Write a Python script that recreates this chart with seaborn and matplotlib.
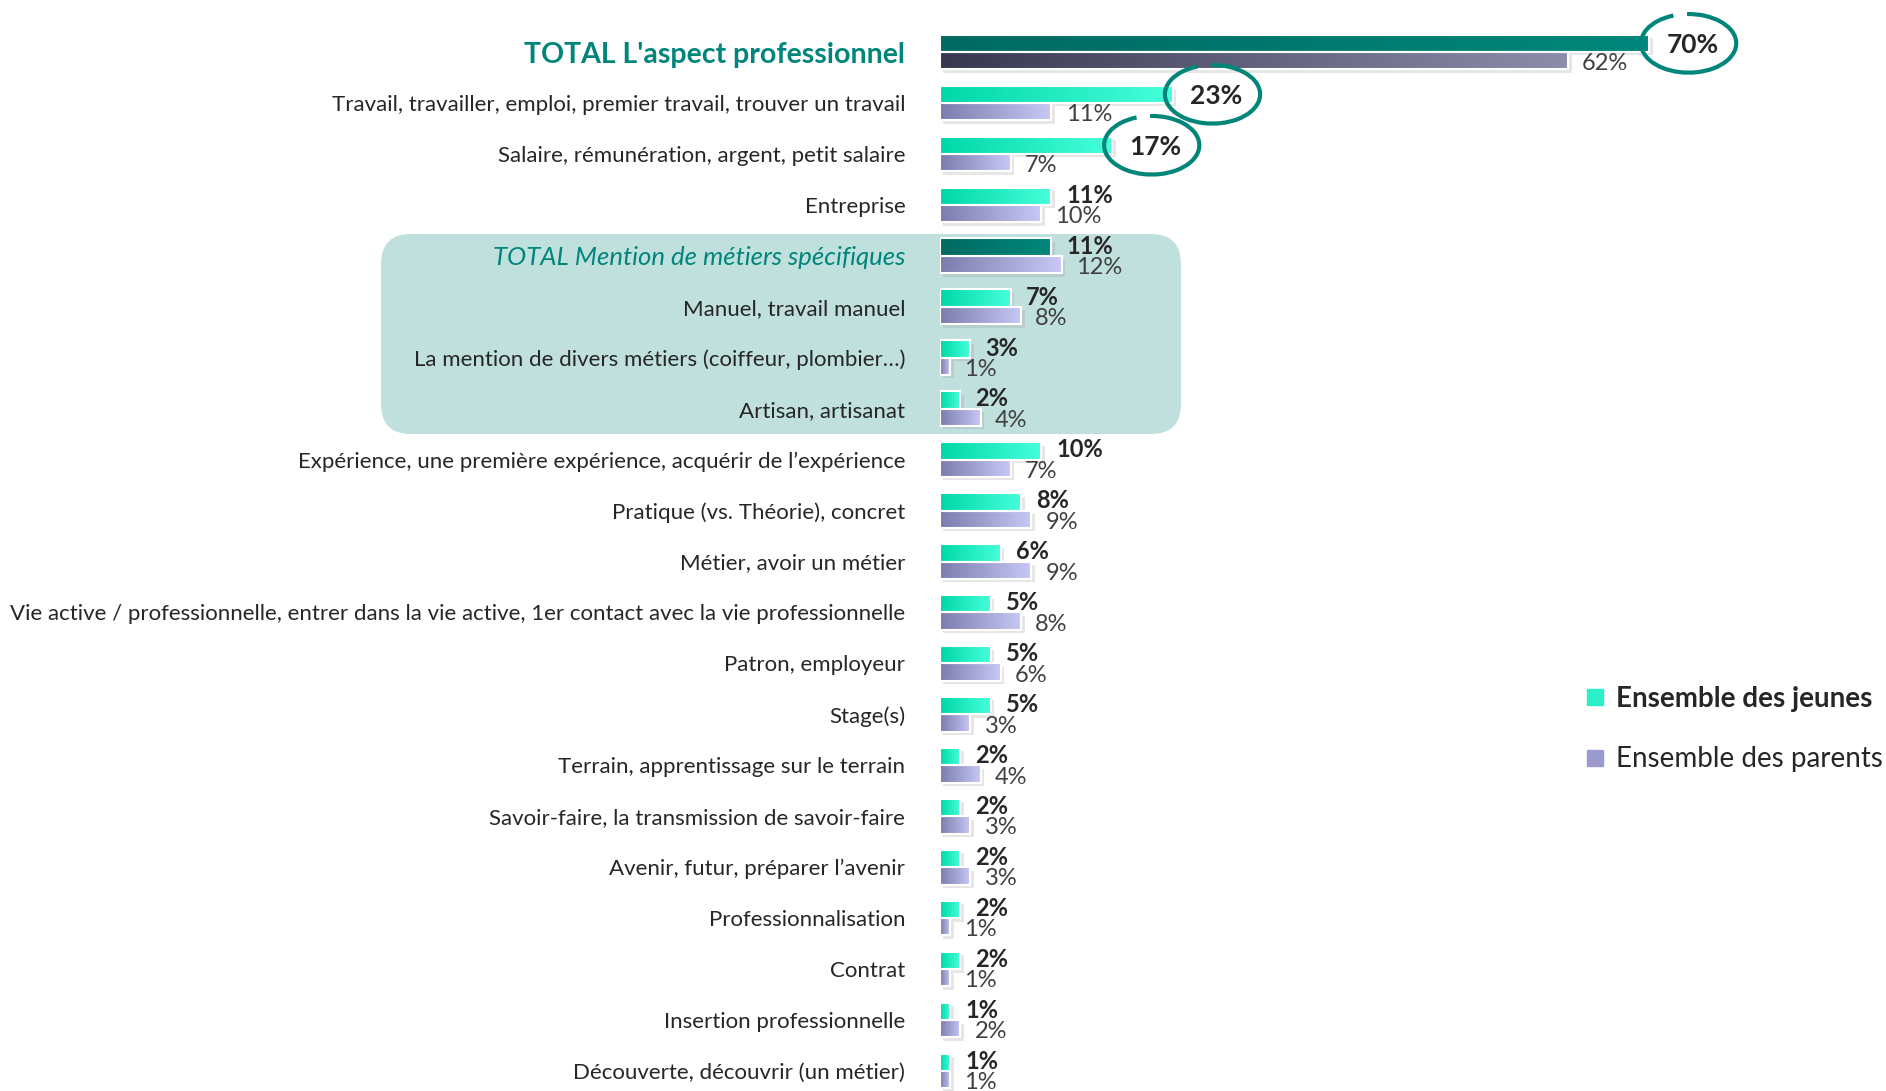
import numpy as np
import pandas as pd
import seaborn as sn
import matplotlib.pyplot as plt
import matplotlib.patheffects as pe
from matplotlib.patches import Arc, FancyBboxPatch, Rectangle
from matplotlib.lines import Line2D
from matplotlib.colors import LinearSegmentedColormap
from matplotlib.transforms import IdentityTransform

categories = [
    "TOTAL L'aspect professionnel",
    "Travail, travailler, emploi, premier travail, trouver un travail",
    "Salaire, rémunération, argent, petit salaire",
    "Entreprise",
    "TOTAL Mention de métiers spécifiques",
    "Manuel, travail manuel",
    "La mention de divers métiers (coiffeur, plombier…)",
    "Artisan, artisanat",
    "Expérience, une première expérience, acquérir de l’expérience",
    "Pratique (vs. Théorie), concret",
    "Métier, avoir un métier",
    "Vie active / professionnelle, entrer dans la vie active, 1er contact avec la vie professionnelle",
    "Patron, employeur",
    "Stage(s)",
    "Terrain, apprentissage sur le terrain",
    "Savoir-faire, la transmission de savoir-faire",
    "Avenir, futur, préparer l’avenir",
    "Professionnalisation",
    "Contrat",
    "Insertion professionnelle",
    "Découverte, découvrir (un métier)",
]
jeunes = [70, 23, 17, 11, 11, 7, 3, 2, 10, 8, 6, 5, 5, 5, 2, 2, 2, 2, 2, 1, 1]
parents = [62, 11, 7, 10, 12, 8, 1, 4, 7, 9, 9, 8, 6, 3, 4, 3, 3, 1, 1, 2, 1]
series_names = ["Ensemble des jeunes", "Ensemble des parents"]
circled = [0, 1, 2]

TEAL = "#00857A"
TXT = "#262626"

df = pd.DataFrame({"categorie": categories * 2,
                   "valeur": jeunes + parents,
                   "groupe": [series_names[0]] * len(jeunes) + [series_names[1]] * len(parents)})

sn.set_style("white")
plt.rcParams["font.family"] = ["Lato", "DejaVu Sans"]

fig = plt.figure(figsize=(18.86, 10.91), dpi=100)
ax = fig.add_axes([940 / 1886, 0, 946 / 1886, 1])
ax.set_zorder(1)
ax.patch.set_alpha(0)

sn.barplot(df, x="valeur", y="categorie", hue="groupe", order=categories,
           hue_order=series_names, orient="h", width=0.68, ax=ax, legend=False,
           palette=["#20EFC0", "#A0A0D8"], saturation=1)

cmaps = {
    "j": LinearSegmentedColormap.from_list("j", ["#00D8A8", "#45FFDA"]),
    "jt": LinearSegmentedColormap.from_list("jt", ["#006A62", "#00877B"]),
    "p": LinearSegmentedColormap.from_list("p", ["#7C7CAE", "#C8C8F6"]),
    "pt": LinearSegmentedColormap.from_list("pt", ["#383850", "#8C8CAA"]),
}
grad = np.linspace(0, 1, 64).reshape(1, -1)

for k, container in enumerate(ax.containers):
    for i, bar in enumerate(container):
        if k == 0:
            cm = cmaps["jt"] if i in (0, 4) else cmaps["j"]
        else:
            cm = cmaps["pt"] if i == 0 else cmaps["p"]
        bar.set_edgecolor("none")
        bar.set_path_effects([pe.SimplePatchShadow(offset=(2.5, -2.5), shadow_rgbFace="#909090", alpha=0.22),
                              pe.Normal()])
        x0, y0, w, h = bar.get_x(), bar.get_y(), bar.get_width(), bar.get_height()
        im = ax.imshow(grad, cmap=cm, extent=[x0, x0 + w, y0 + h, y0], aspect="auto",
                       zorder=2.5, interpolation="bicubic")
        im.set_clip_path(bar)
        ax.add_patch(Rectangle((x0, y0), w, h, fill=False, ec="white", lw=1.5, zorder=3))

        cy = y0 + h / 2
        if k == 0:
            big = i in circled
            ax.text(x0 + w + (1.7 if big else 1.5), cy + (0.04 if big else -0.02), f"{jeunes[i]}%",
                    ha="left", va="center", fontsize=19 if big else 17, fontweight="bold",
                    color=TXT, zorder=5)
        else:
            ax.text(x0 + w + 1.4, cy + 0.06, f"{parents[i]}%", ha="left", va="center",
                    fontsize=17, color="#404040", zorder=5)

# circles round the top three scores
for i in circled:
    cx = jeunes[i] + 3.9
    arc = Arc((cx, i - 0.17), 9.4, 1.15, theta1=255, theta2=200, color=TEAL, lw=3,
              zorder=6, clip_on=False)
    ax.add_patch(arc)

ax.set_xlim(0, 946 / 10.13)
ax.set_ylim(20 + 20 / 50.95, -52 / 50.95)
ax.set_xlabel("")
ax.set_ylabel("")
ax.set_xticks([])
sn.despine(ax=ax, left=True, bottom=True)
ax.tick_params(axis="y", length=0, pad=25, labelsize=16, labelcolor=TXT)
for i, lab in enumerate(ax.get_yticklabels()):
    if i == 0:
        lab.set_color(TEAL)
        lab.set_fontweight("bold")
        lab.set_fontsize(20.5)
    elif i == 4:
        lab.set_color(TEAL)
        lab.set_fontstyle("italic")
        lab.set_fontsize(18.5)

# shaded group box behind the trade rows
box = FancyBboxPatch((381, 1091 - 434), 800, 200, boxstyle="round,pad=0,rounding_size=30",
                     transform=IdentityTransform(), fc="#C0E0DE", ec="none", zorder=-1)
fig.patches.append(box)

handles = [Line2D([], [], ls="none", marker="s", markersize=11, color="#2AF0C8"),
           Line2D([], [], ls="none", marker="s", markersize=11, color="#9A9AD0")]
leg = fig.legend(handles, series_names, loc="center left", bbox_to_anchor=(1584 / 1886, 1 - 729 / 1091),
                 frameon=False, fontsize=20, labelspacing=1.25, handletextpad=0.35, handlelength=0.8,
                 borderpad=0, borderaxespad=0)
leg.get_texts()[0].set_fontweight("bold")
for t in leg.get_texts():
    t.set_color(TXT)

plt.savefig("out.png", dpi=100)
